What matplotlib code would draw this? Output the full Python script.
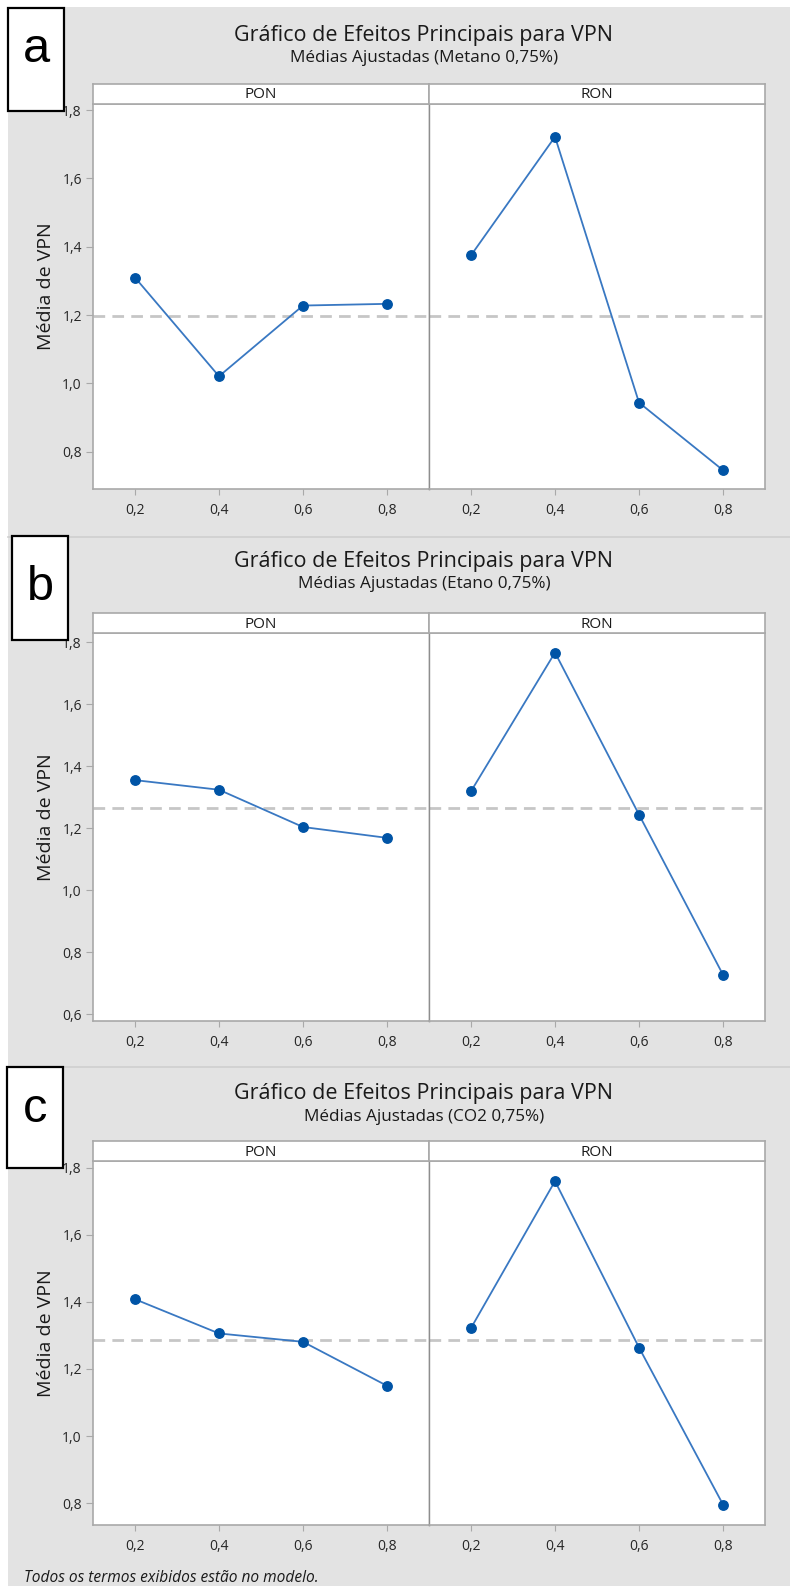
import numpy as np
import matplotlib
matplotlib.use("Agg")
import matplotlib.pyplot as plt
from matplotlib.patches import Rectangle
from matplotlib.lines import Line2D

# ---------------- data ----------------
levels = [0.2, 0.4, 0.6, 0.8]
level_labels = ["0,2", "0,4", "0,6", "0,8"]
factors = ["PON", "RON"]

pon_metano = [1.310, 1.021, 1.228, 1.233]
ron_metano = [1.375, 1.722, 0.944, 0.746]
pon_etano = [1.355, 1.324, 1.204, 1.169]
ron_etano = [1.319, 1.766, 1.244, 0.728]
pon_co2 = [1.408, 1.306, 1.281, 1.150]
ron_co2 = [1.322, 1.760, 1.264, 0.796]

panel_letters = ["a", "b", "c"]
title = "Gráfico de Efeitos Principais para VPN"
subtitles = ["Médias Ajustadas (Metano 0,75%)",
             "Médias Ajustadas (Etano 0,75%)",
             "Médias Ajustadas (CO2 0,75%)"]
yticks_a = [0.8, 1.0, 1.2, 1.4, 1.6, 1.8]
yticks_b = [0.6, 0.8, 1.0, 1.2, 1.4, 1.6, 1.8]
yticks_c = [0.8, 1.0, 1.2, 1.4, 1.6, 1.8]
ylabel = "Média de VPN"
footnote = "Todos os termos exibidos estão no modelo."

series = [(pon_metano, ron_metano), (pon_etano, ron_etano), (pon_co2, ron_co2)]
yticks_all = [yticks_a, yticks_b, yticks_c]

# ---------------- layout (pixels) ----------------
W, H = 790, 1586
plt.rcParams['font.family'] = ['Open Sans', 'DejaVu Sans']

layout = [
    dict(strip_top=84, plot_top=104, plot_bot=489, title_y=35, sub_y=58,
         ylim=(0.691, 1.818), box=(8, 8, 64, 111), letter_y=50),
    dict(strip_top=613, plot_top=633, plot_bot=1021, title_y=562, sub_y=584,
         ylim=(0.579, 1.829), box=(12, 536, 68, 640), letter_y=588),
    dict(strip_top=1141, plot_top=1161, plot_bot=1525, title_y=1094, sub_y=1117,
         ylim=(0.735, 1.82), box=(7, 1067, 63, 1168), letter_y=1110),
]
x_left, x_mid, x_right = 93, 429, 765

BG = "#e3e3e3"
FRAME = "#a9a9a9"
DIV = "#8e8e8e"
LINE_C = "#3978c2"
MARK_C = "#0054a6"
TXT = "#262626"

fig = plt.figure(figsize=(W / 100, H / 100), dpi=100, facecolor="white")


def fx(x):
    return x / W


def fy(y):
    return 1 - y / H


def add_ax(x0, y0, x1, y1, **kw):
    ax = fig.add_axes([fx(x0), fy(y1), (x1 - x0) / W, (y1 - y0) / H], **kw)
    ax.set_zorder(3)
    return ax


# gray background
fig.patches.append(Rectangle((fx(8), 0), 1 - fx(8), fy(7), transform=fig.transFigure,
                             facecolor=BG, edgecolor="none", zorder=-10))
# separators
for ys in (536.5, 1067):
    fig.add_artist(Line2D([fx(8), 1], [fy(ys), fy(ys)], transform=fig.transFigure,
                          color="#cfcfcf", lw=1.2, zorder=1))

for p, lay in enumerate(layout):
    pon_vals, ron_vals = series[p]
    grand_mean = np.mean(list(pon_vals) + list(ron_vals))
    for f, (xa, xb) in enumerate([(x_left, x_mid), (x_mid, x_right)]):
        ax = add_ax(xa, lay["plot_top"], xb, lay["plot_bot"])
        ax.set_facecolor("white")
        vals = pon_vals if f == 0 else ron_vals
        ax.axhline(grand_mean, color="#c6c6c6", lw=2.0, ls=(0, (4.2, 2.6)), zorder=1)
        ax.plot(levels, vals, color=LINE_C, lw=1.3, zorder=2)
        ax.plot(levels, vals, ls="none", marker="o", ms=6.8, color=MARK_C,
                mec=MARK_C, zorder=3)
        ax.set_xlim(0.1, 0.9)
        ax.set_ylim(*lay["ylim"])
        ax.set_xticks(levels)
        ax.set_xticklabels(level_labels)
        ax.set_yticks(yticks_all[p])
        if f == 0:
            ax.set_yticklabels([f"{v:.1f}".replace(".", ",") for v in yticks_all[p]])
        else:
            ax.tick_params(axis="y", left=False, labelleft=False)
        ax.tick_params(axis="x", length=4, width=0.8, color=FRAME, pad=6,
                       labelsize=10, labelcolor=TXT)
        ax.tick_params(axis="y", length=5, width=0.8, color=FRAME, pad=3,
                       labelsize=10, labelcolor=TXT)
        for s in ax.spines.values():
            s.set_color(FRAME)
            s.set_linewidth(1.2)
        if f == 0:
            ax.spines["right"].set_color(DIV)
            ax.spines["right"].set_linewidth(1.0)
        else:
            ax.spines["left"].set_color(DIV)
            ax.spines["left"].set_linewidth(1.0)
        # strip
        sax = add_ax(xa, lay["strip_top"], xb, lay["plot_top"])
        sax.set_facecolor("white")
        sax.set_xticks([])
        sax.set_yticks([])
        for s in sax.spines.values():
            s.set_color(FRAME)
            s.set_linewidth(1.2)
        sax.text(0.5, 0.45, factors[f], ha="center", va="center", fontsize=11,
                 color="#1a1a1a", transform=sax.transAxes)

    # titles
    fig.text(fx(424), fy(lay["title_y"]), title, ha="center", va="center",
             fontsize=15.5, color="#1a1a1a")
    fig.text(fx(424), fy(lay["sub_y"]), subtitles[p], ha="center", va="center",
             fontsize=12.3, color="#1a1a1a")
    # y label, centered over strip+plot
    fig.text(fx(46), fy((lay["strip_top"] + lay["plot_bot"]) / 2), ylabel,
             ha="center", va="center", rotation=90, fontsize=14, color="#1a1a1a",
             fontweight="medium")
    # letter box
    bx0, by0, bx1, by1 = lay["box"]
    fig.patches.append(Rectangle((fx(bx0), fy(by1)), (bx1 - bx0) / W, (by1 - by0) / H,
                                 transform=fig.transFigure, facecolor="white",
                                 edgecolor="black", lw=1.6, zorder=5))
    fig.text(fx((bx0 + bx1) / 2), fy(lay["letter_y"]), panel_letters[p],
             ha="center", va="center", fontsize=35, color="black",
             family=["Liberation Sans", "DejaVu Sans"], zorder=6)

fig.text(fx(24), fy(1578), footnote, ha="left", va="center", fontsize=11.2,
         style="italic", color="#1a1a1a")

fig.savefig("out.png", dpi=100, facecolor="white")
